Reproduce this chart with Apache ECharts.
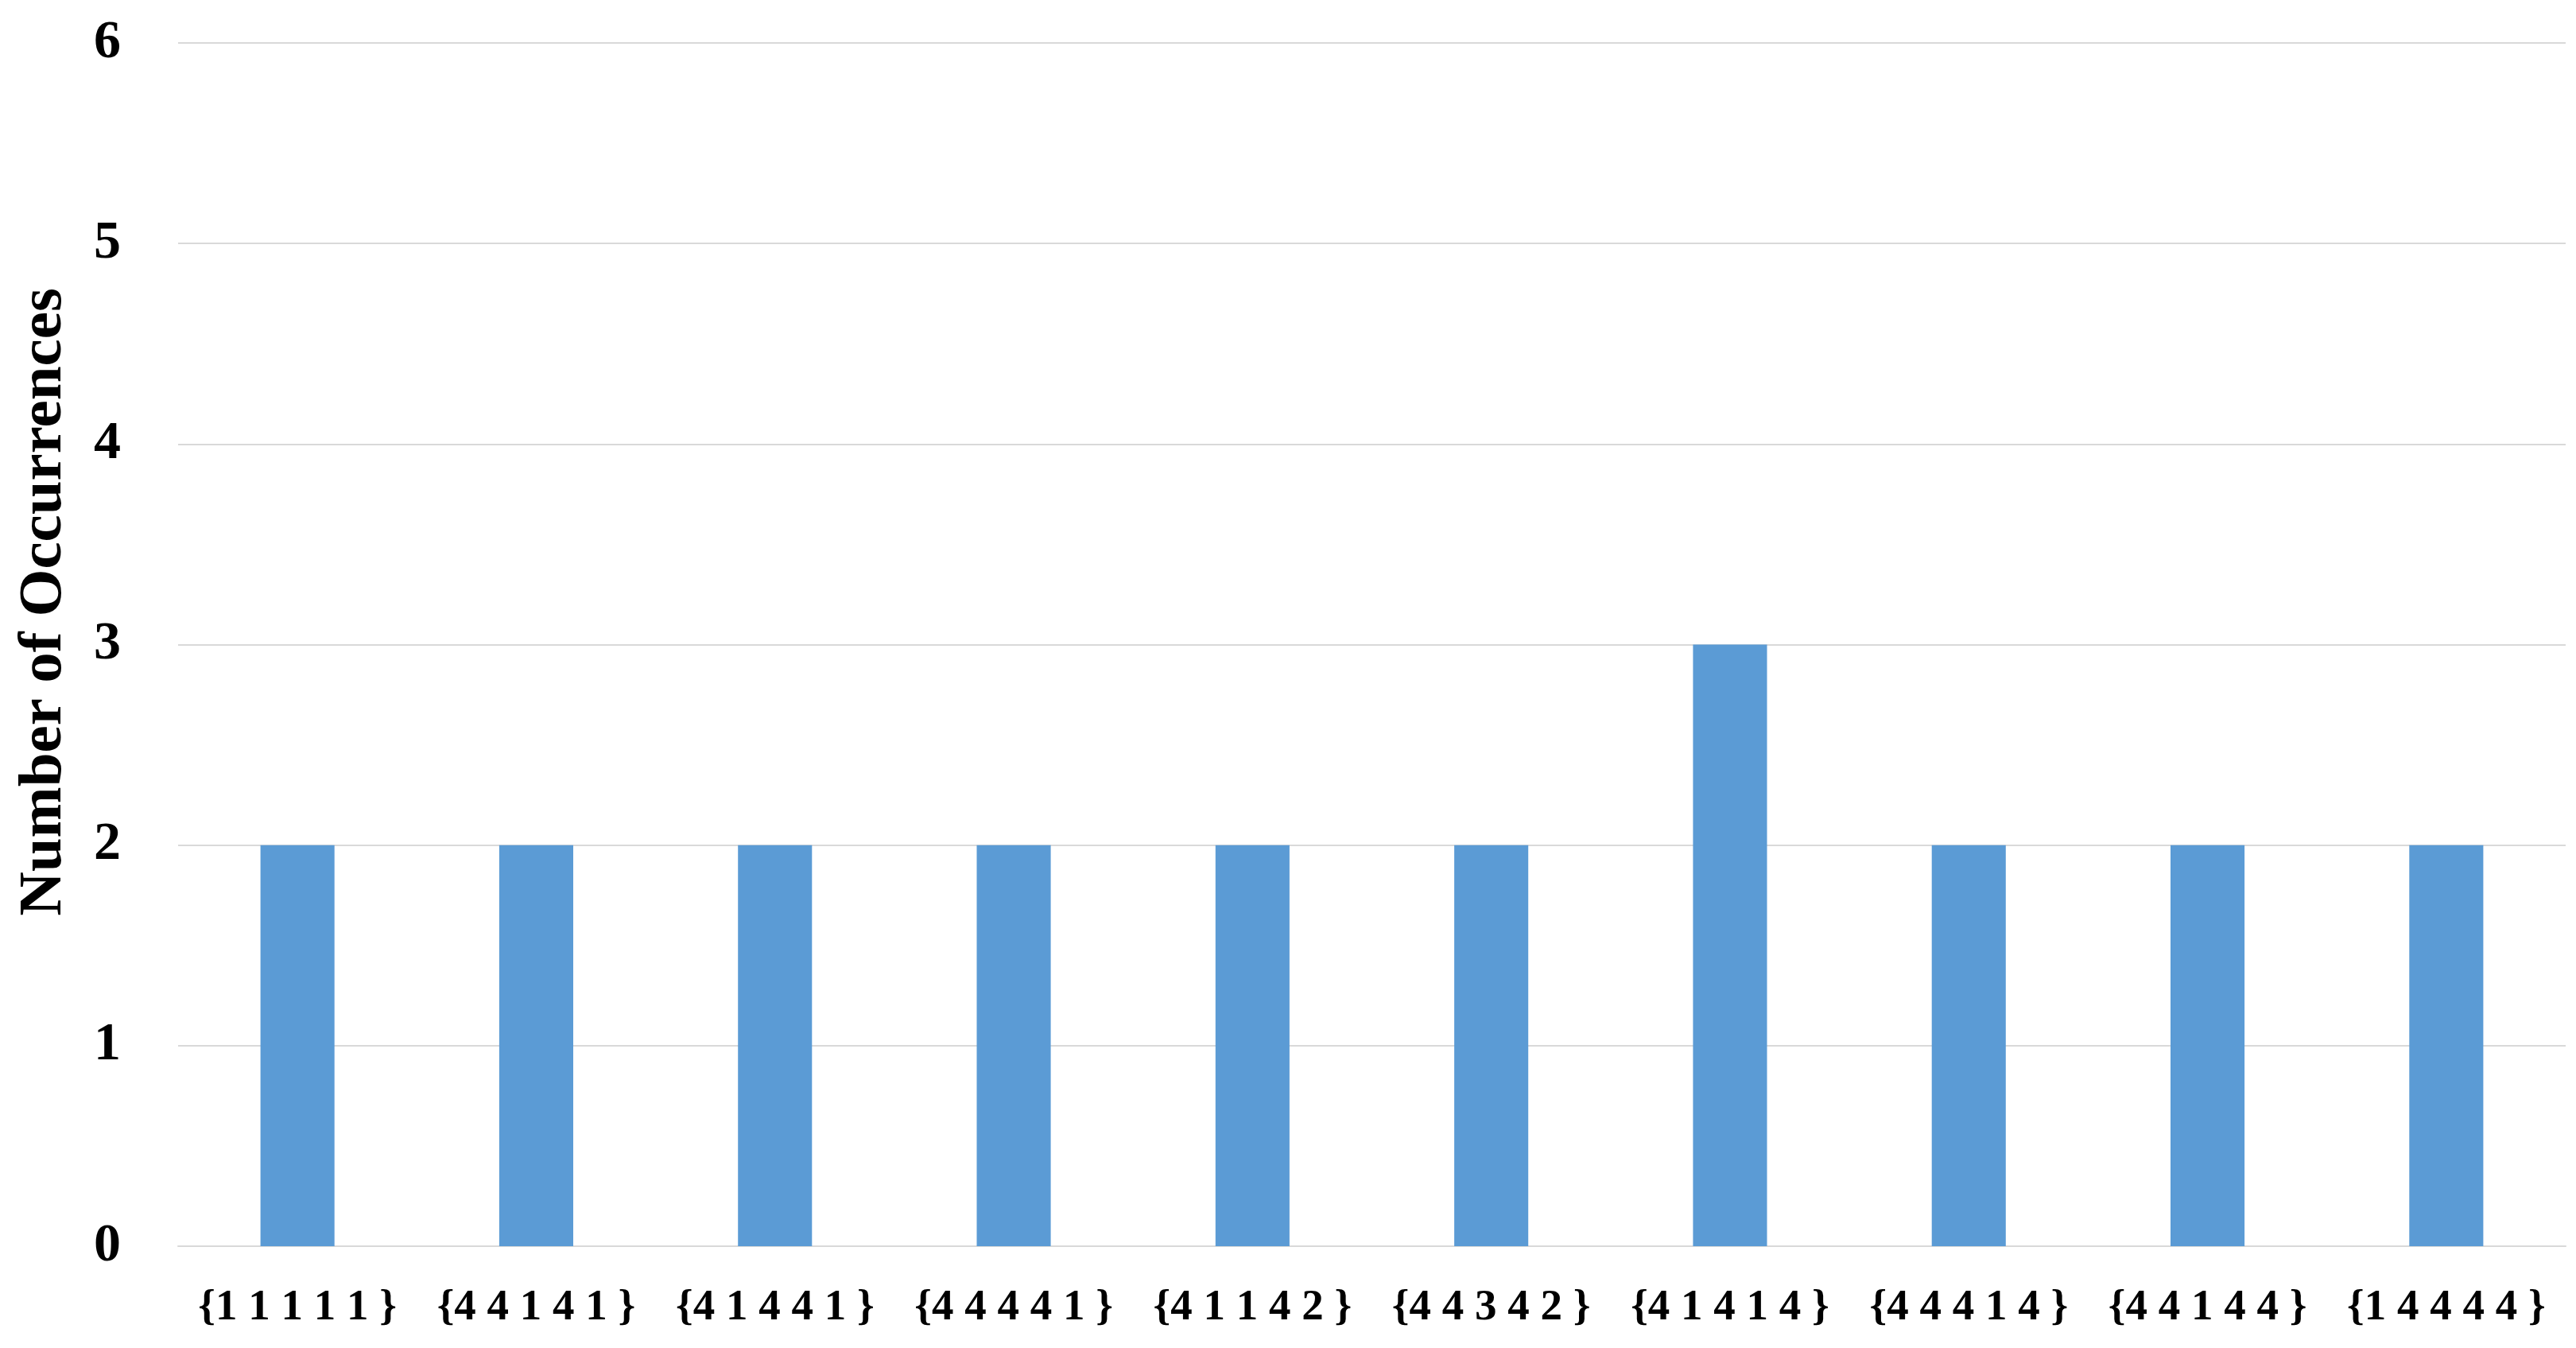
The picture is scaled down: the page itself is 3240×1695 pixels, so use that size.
<!DOCTYPE html>
<html>
<head>
<meta charset="utf-8">
<script src="https://cdn.jsdelivr.net/npm/echarts@6/dist/echarts.min.js"></script>
<style>
html,body{margin:0;padding:0;background:#fff;}
#chart{width:3240px;height:1695px;}
</style>
</head>
<body>
<div id="chart"></div>
<script>
const categories = ['{1 1 1 1 1 }','{4 4 1 4 1 }','{4 1 4 4 1 }','{4 4 4 4 1 }','{4 1 1 4 2 }','{4 4 3 4 2 }','{4 1 4 1 4 }','{4 4 4 1 4 }','{4 4 1 4 4 }','{1 4 4 4 4 }'];
const occurrences = [2, 2, 2, 2, 2, 2, 3, 2, 2, 2];
const yTitle = 'Number of Occurrences';

const fontFam = '"Liberation Serif", "DejaVu Serif", serif';
const chart = echarts.init(document.getElementById('chart'), null, {renderer:'canvas'});
chart.setOption({
  animation: false,
  backgroundColor: '#ffffff',
  grid: {left: 224, right: 13, top: 54, bottom: 128, containLabel: false},
  xAxis: {
    type: 'category',
    data: categories,
    axisLine: {show: true, lineStyle: {color: '#D9D9D9', width: 2}},
    axisTick: {show: false},
    axisLabel: {
      fontFamily: fontFam, fontWeight: 'bold', fontSize: 55, color: '#000',
      margin: 50, interval: 0
    }
  },
  yAxis: {
    type: 'value',
    min: 0, max: 6, interval: 1,
    axisLine: {show: false},
    axisTick: {show: false},
    splitLine: {lineStyle: {color: '#D9D9D9', width: 2}},
    axisLabel: {
      fontFamily: fontFam, fontWeight: 'bold', fontSize: 68, color: '#000',
      margin: 72
    }
  },
  graphic: [{
    type: 'text',
    x: 56, y: 757,
    rotation: Math.PI / 2,
    style: {
      text: yTitle,
      fontFamily: fontFam, fontWeight: 'bold', fontSize: 77, fill: '#000',
      textAlign: 'center', textVerticalAlign: 'middle'
    }
  }],
  series: [{
    type: 'bar',
    data: occurrences,
    barWidth: '31%',
    itemStyle: {color: '#5B9BD5'}
  }]
});
</script>
</body>
</html>
